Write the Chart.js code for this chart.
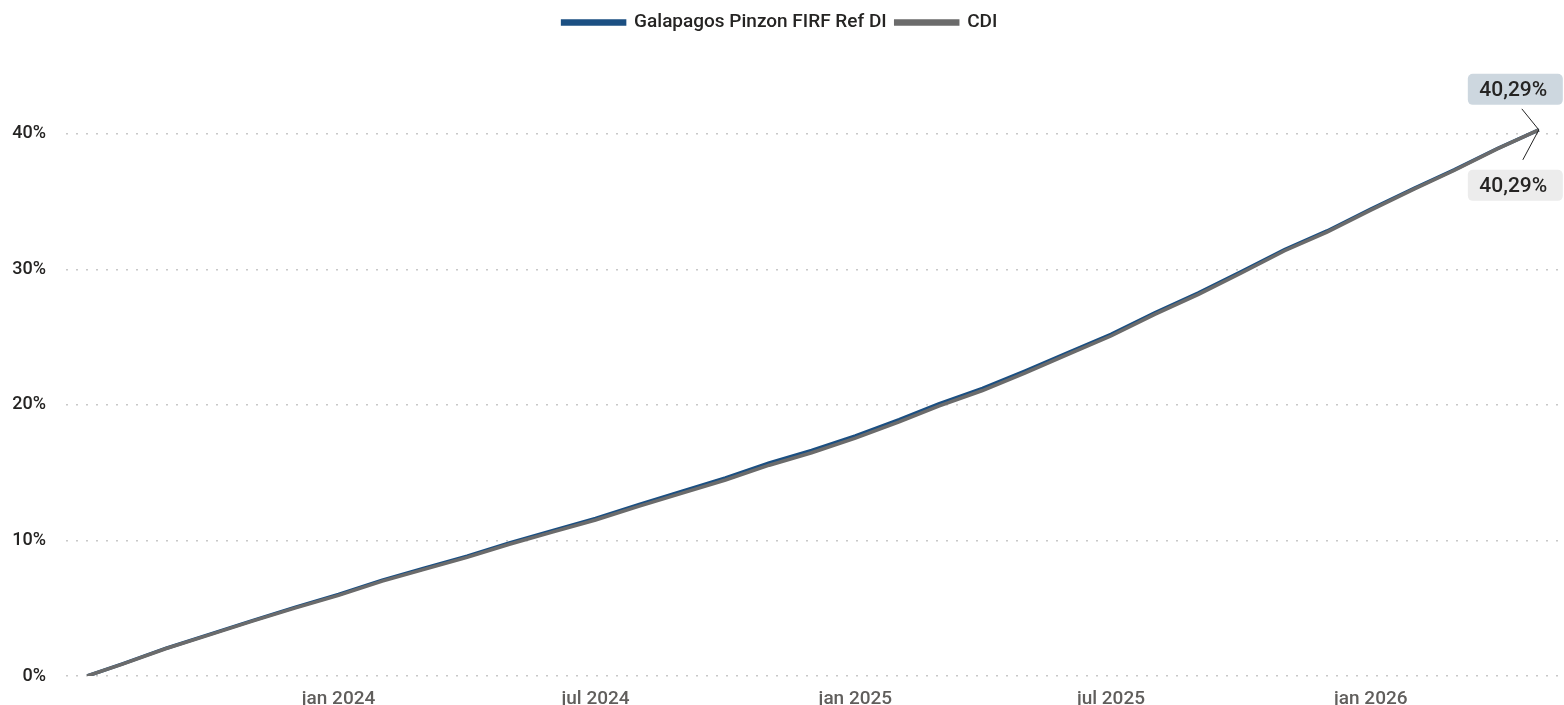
<!DOCTYPE html>
<html>
<head>
<meta charset="utf-8">
<script src="https://cdn.jsdelivr.net/npm/chart.js@4.4.1/dist/chart.umd.min.js"></script>
<style>
  html, body { margin: 0; padding: 0; background: #fff; }
  #wrap { width: 1564px; height: 705px; position: relative; }
</style>
</head>
<body>
<div id="wrap"><canvas id="perfChart"></canvas></div>
<script>
/* ===== Rentabilidade acumulada: fundo x CDI ===== */

const dates = [
  '2023-07-07','2023-08-01','2023-09-01','2023-10-01','2023-11-01','2023-12-01',
  '2024-01-01','2024-02-01','2024-03-01','2024-04-01','2024-05-01','2024-06-01',
  '2024-07-01','2024-08-01','2024-09-01','2024-10-01','2024-11-01','2024-12-01',
  '2025-01-01','2025-02-01','2025-03-01','2025-04-01','2025-05-01','2025-06-01',
  '2025-07-01','2025-08-01','2025-09-01','2025-10-01','2025-11-01','2025-12-01',
  '2026-01-01','2026-02-01','2026-03-01','2026-04-01','2026-04-30'
];
const fundValues = [
  0, 0.89, 2.05, 3.05, 4.09, 5.06,
  6.01, 7.07, 7.93, 8.84, 9.82, 10.74,
  11.63, 12.66, 13.65, 14.61, 15.71, 16.64,
  17.72, 18.91, 20.08, 21.22, 22.49, 23.88,
  25.21, 26.80, 28.26, 29.81, 31.46, 32.83,
  34.44, 35.99, 37.34, 38.93, 40.29
];
const cdiValues = [
  0, 0.88, 2.03, 3.02, 4.05, 5.01,
  5.95, 7.00, 7.85, 8.75, 9.72, 10.63,
  11.51, 12.53, 13.51, 14.46, 15.55, 16.47,
  17.55, 18.74, 19.91, 21.06, 22.34, 23.74,
  25.08, 26.68, 28.15, 29.71, 31.37, 32.75,
  34.37, 35.93, 37.29, 38.90, 40.29
];
const xTickDates = ['2024-01-01','2024-07-01','2025-01-01','2025-07-01','2026-01-01'];
const xTickLabels = ['jan 2024','jul 2024','jan 2025','jul 2025','jan 2026'];
const yTicks = [0, 10, 20, 30, 40];
const xRange = ['2023-06-22','2026-05-15'];

const FONT = 'Roboto, "Noto Sans", sans-serif';
const dayOf = s => Date.parse(s + 'T00:00:00Z') / 86400000;
const pts = vals => dates.map((d, i) => ({ x: dayOf(d), y: vals[i] }));
const fmtPct = v => v.toFixed(2).replace('.', ',') + '%';

// espaço extra abaixo da legenda (a legenda fica no topo)
const legendSpace = {
  id: 'legendSpace',
  afterInit(chart) {
    const lg = chart.legend;
    const fit = lg.fit;
    lg.fit = function () { fit.call(this); this.height += 24; };
  }
};

// etiquetas do último ponto, com linha-guia
const endLabels = {
  id: 'endLabels',
  afterDatasetsDraw(chart) {
    const ctx = chart.ctx;
    const boxes = [
      { ds: 0, bg: '#cdd7df', dx: -71, dy: -56, lx: -17, ly: -21 },
      { ds: 1, bg: '#ececec', dx: -71, dy: 40, lx: -16, ly: 30 }
    ];
    ctx.save();
    boxes.forEach(b => {
      const meta = chart.getDatasetMeta(b.ds);
      const p = meta.data[meta.data.length - 1];
      const vals = chart.data.datasets[b.ds].data;
      const v = vals[vals.length - 1].y;
      ctx.strokeStyle = '#222';
      ctx.lineWidth = 1;
      ctx.beginPath();
      ctx.moveTo(p.x, p.y);
      ctx.lineTo(p.x + b.lx, p.y + b.ly);
      ctx.stroke();
      const bx = p.x + b.dx, by = p.y + b.dy, bw = 95, bh = 31;
      ctx.fillStyle = b.bg;
      ctx.beginPath();
      ctx.roundRect(bx, by, bw, bh, 5);
      ctx.fill();
      ctx.fillStyle = '#252423';
      ctx.font = '500 21px ' + FONT;
      ctx.textAlign = 'center';
      ctx.textBaseline = 'middle';
      ctx.fillText(fmtPct(v), bx + bw / 2 - 2, by + bh / 2 + 1);
    });
    ctx.restore();
  }
};

new Chart(document.getElementById('perfChart'), {
  type: 'line',
  data: {
    datasets: [
      { label: 'Galapagos Pinzon FIRF Ref DI', data: pts(fundValues), borderColor: '#1B4F82', backgroundColor: '#1B4F82', borderWidth: 3.5, pointRadius: 0, tension: 0, order: 1 },
      { label: 'CDI', data: pts(cdiValues), borderColor: '#6B6B6B', backgroundColor: '#6B6B6B', borderWidth: 3.5, pointRadius: 0, tension: 0, order: 0 }
    ]
  },
  options: {
    responsive: true, maintainAspectRatio: false, animation: false,
    layout: { padding: { left: 0, right: 4, top: 4, bottom: 0 } },
    plugins: {
      legend: {
        position: 'top',
        labels: {
          boxWidth: 62, boxHeight: 3, padding: 9,
          color: '#252423', font: { family: FONT, size: 19, weight: '500' },
          sort: (a, b) => a.datasetIndex - b.datasetIndex
        }
      },
      tooltip: { enabled: false }
    },
    scales: {
      x: {
        type: 'linear',
        min: dayOf(xRange[0]), max: dayOf(xRange[1]),
        grid: { display: false }, border: { display: false },
        afterBuildTicks: s => { s.ticks = xTickDates.map(d => ({ value: dayOf(d) })); },
        afterFit: s => { s.height = 29; s.paddingLeft = 0; s.paddingRight = 0; },
        ticks: {
          autoSkip: false, maxRotation: 0, padding: 4,
          color: '#605E5C', font: { family: FONT, size: 19, weight: '500' },
          callback: (v, i) => xTickLabels[i]
        }
      },
      y: {
        min: 0, max: 45,
        afterBuildTicks: s => { s.ticks = yTicks.map(v => ({ value: v })); },
        afterFit: s => { s.width = 66; s.paddingTop = 0; s.paddingBottom = 0; },
        border: { display: false, dash: [2, 8] },
        grid: { color: '#C8C8C8', lineWidth: 1.5, drawTicks: false },
        ticks: {
          padding: 20, color: '#252423', font: { family: FONT, size: 18, weight: '500' },
          callback: v => v + '%'
        }
      }
    }
  },
  plugins: [legendSpace, endLabels]
});
</script>
</body>
</html>
